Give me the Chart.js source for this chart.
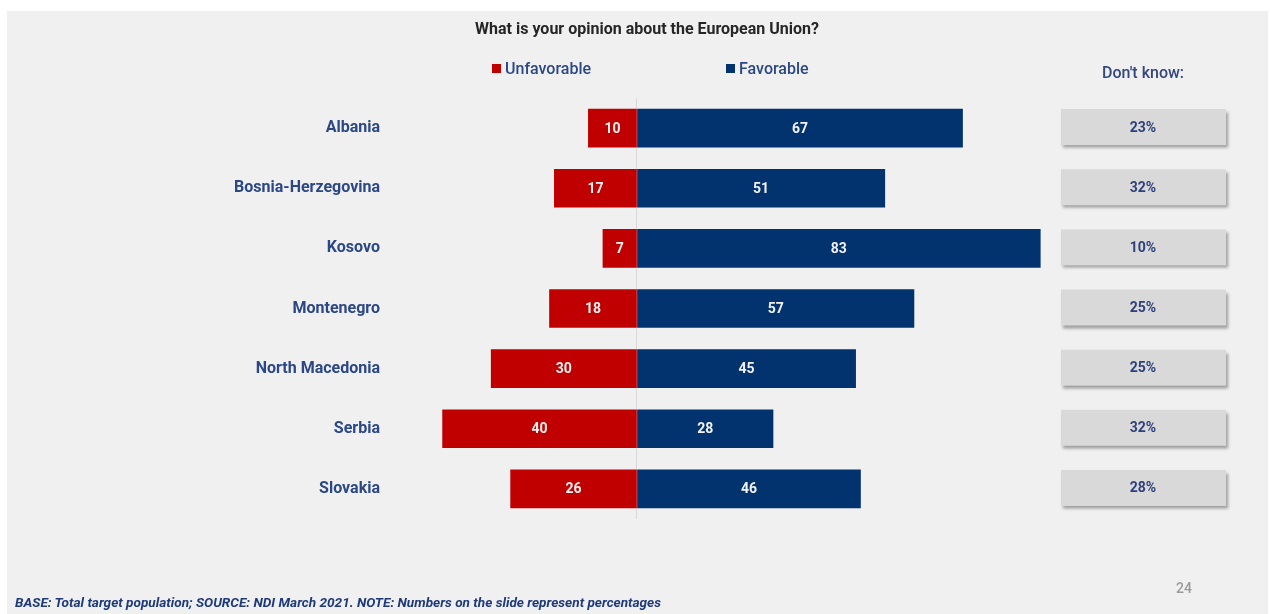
<!DOCTYPE html>
<html>
<head>
<meta charset="utf-8">
<script src="https://cdn.jsdelivr.net/npm/chart.js@4/dist/chart.umd.min.js"></script>
<style>
  html, body { margin: 0; padding: 0; background: #fff; }
  #wrap { position: relative; width: 1270px; height: 614px; overflow: hidden; }
  #panel { position: absolute; left: 7px; top: 11px; width: 1261px; height: 603px; background: #f0f0f0; }
  #c { position: absolute; left: 0; top: 0; }
  .txt { position: absolute; font-family: Roboto, "Noto Sans", sans-serif; white-space: nowrap; }
  #title { left: 0; width: 1294px; top: 19px; text-align: center; font-size: 16px; font-weight: 700; color: #262626; }
  .leg { top: 59px; font-size: 16px; font-weight: 500; color: #2b4786; }
  .leg i { display: inline-block; width: 9px; height: 9px; margin-right: 4px; vertical-align: 1px; }
  #dk { left: 1102px; top: 63px; font-size: 16px; font-weight: 500; color: #34477e; }
  #note { left: 15px; top: 594px; font-size: 13.6px; font-weight: 700; font-style: italic; color: #1f3a7a; }
  #page { left: 1176px; top: 580px; font-size: 14px; font-weight: 500; color: #9a9a9a; }
</style>
</head>
<body>
<div id="wrap">
  <div id="panel"></div>
  <canvas id="c" width="1270" height="614"></canvas>
  <div class="txt" id="title">What is your opinion about the European Union?</div>
  <div class="txt leg" style="left:492px"><i style="background:#c00000"></i>Unfavorable</div>
  <div class="txt leg" style="left:726px"><i style="background:#03336f"></i>Favorable</div>
  <div class="txt" id="dk">Don't know:</div>
  <div class="txt" id="note">BASE: Total target population; SOURCE: NDI March 2021. NOTE: Numbers on the slide represent percentages</div>
  <div class="txt" id="page">24</div>
</div>
<script>
const countries = ['Albania', 'Bosnia-Herzegovina', 'Kosovo', 'Montenegro', 'North Macedonia', 'Serbia', 'Slovakia'];
const unfavorable = [10, 17, 7, 18, 30, 40, 26];
const favorable = [67, 51, 83, 57, 45, 28, 46];
const dontKnow = [23, 32, 10, 25, 25, 32, 28];

// Zahlen in die Balken + "Don't know"-Kaesten rechts
const labelsPlugin = {
  id: 'barLabels',
  afterDatasetsDraw(chart) {
    const ctx = chart.ctx;
    ctx.save();
    ctx.font = '700 14px Roboto, "Noto Sans", sans-serif';
    ctx.textAlign = 'center';
    ctx.textBaseline = 'middle';
    chart.data.datasets.forEach((ds, i) => {
      chart.getDatasetMeta(i).data.forEach((bar, j) => {
        const x = (bar.x + bar.base) / 2;
        ctx.fillStyle = '#f2f2f2';
        ctx.fillText(String(Math.abs(ds.data[j])), x, bar.y + 1);
      });
    });

    const y = chart.scales.y;
    dontKnow.forEach((v, j) => {
      const cy = y.getPixelForValue(j);
      ctx.save();
      ctx.shadowColor = 'rgba(0,0,0,0.35)';
      ctx.shadowOffsetX = 2;
      ctx.shadowOffsetY = 3;
      ctx.shadowBlur = 3;
      ctx.fillStyle = '#d9d9d9';
      ctx.fillRect(1061, cy - 19, 165, 36);
      ctx.restore();
      ctx.fillStyle = '#2e3f7c';
      ctx.fillText(v + '%', 1143, cy);
    });
    ctx.restore();
  },
};

new Chart(document.getElementById('c'), {
  type: 'bar',
  data: {
    labels: countries,
    datasets: [
      {
        label: 'Unfavorable',
        data: unfavorable.map((v) => -v),
        backgroundColor: '#c00000',
        barThickness: 38,
      },
      {
        label: 'Favorable',
        data: favorable,
        backgroundColor: '#03336f',
        barThickness: 38,
      },
    ],
  },
  options: {
    indexAxis: 'y',
    responsive: false,
    animation: false,
    layout: { padding: { top: 98, bottom: 95, right: 220, left: 0 } },
    scales: {
      x: {
        stacked: true,
        min: -50,
        max: 85,
        border: { display: false },
        ticks: { display: false },
        grid: {
          drawTicks: false,
          color: (c) => (c.tick && c.tick.value === 0 ? '#d8d8d8' : 'transparent'),
        },
      },
      y: {
        stacked: true,
        border: { display: false },
        grid: { display: false, drawTicks: false },
        ticks: {
          padding: 14,
          color: '#2b4786',
          font: { family: 'Roboto, "Noto Sans", sans-serif', size: 16, weight: 'bold' },
        },
        afterFit: (axis) => { axis.width = 394; },
      },
    },
    plugins: {
      legend: { display: false },
      tooltip: { enabled: false },
    },
  },
  plugins: [labelsPlugin],
});
</script>
</body>
</html>
